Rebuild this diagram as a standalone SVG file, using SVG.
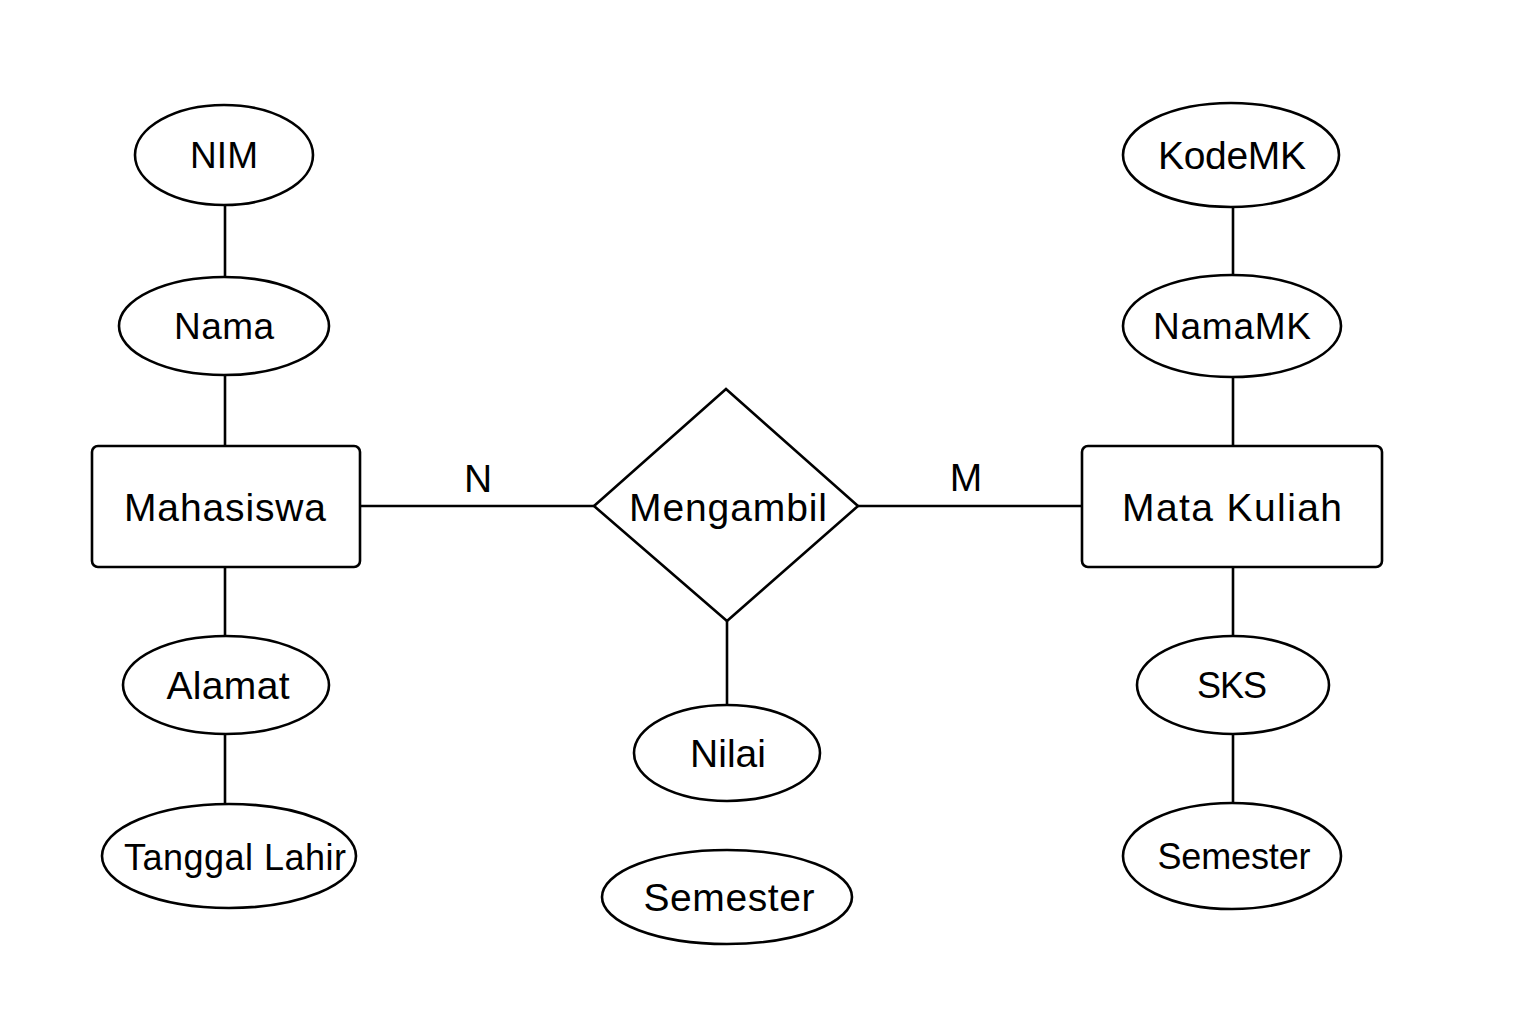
<svg xmlns="http://www.w3.org/2000/svg" width="1536" height="1024" viewBox="0 0 1536 1024">
<style>
.s{fill:#fff;stroke:#000;stroke-width:2.6}
.c line{stroke:#000;stroke-width:2.6}
text{font-family:"Liberation Sans",Arial,sans-serif;font-size:39px;fill:#000;text-anchor:middle}
.t{font-size:37px}
.u{font-size:36px}
</style>
<rect width="1536" height="1024" fill="#fff"/>
<g class="c" id="connectors">
<line x1="225" y1="205" x2="225" y2="277"/>
<line x1="225" y1="375" x2="225" y2="446"/>
<line x1="225" y1="567" x2="225" y2="636"/>
<line x1="225" y1="733" x2="225" y2="804"/>
<line x1="360" y1="506" x2="594" y2="506"/>
<line x1="858" y1="506" x2="1082" y2="506"/>
<line x1="727" y1="621" x2="727" y2="705"/>
<line x1="1233" y1="207" x2="1233" y2="275"/>
<line x1="1233" y1="377" x2="1233" y2="446"/>
<line x1="1233" y1="567" x2="1233" y2="636"/>
<line x1="1233" y1="734" x2="1233" y2="803"/>
<text x="478" y="492" textLength="25">N</text>
<text x="966" y="491" textLength="30">M</text>
</g>
<g id="nim"><ellipse class="s" cx="224" cy="155" rx="89" ry="50"/><text class="t" x="224" y="168" textLength="68">NIM</text></g>
<g id="nama"><ellipse class="s" cx="224" cy="326" rx="105" ry="49"/><text class="t" x="224" y="339" textLength="100">Nama</text></g>
<g id="mahasiswa"><rect class="s" x="92" y="446" width="268" height="121" rx="6"/><text x="225" y="521" textLength="202">Mahasiswa</text></g>
<g id="alamat"><ellipse class="s" cx="226" cy="685" rx="103" ry="49"/><text x="228" y="699" textLength="123">Alamat</text></g>
<g id="tanggal"><ellipse class="s" cx="229" cy="856" rx="127" ry="52"/><text class="u" x="235" y="870" textLength="222">Tanggal Lahir</text></g>
<g id="mengambil"><polygon class="s" points="726,389 858,506 727,621 594,506"/><text x="728" y="521" textLength="198">Mengambil</text></g>
<g id="nilai"><ellipse class="s" cx="727" cy="753" rx="93" ry="48"/><text x="728" y="767" textLength="76">Nilai</text></g>
<g id="semester1"><ellipse class="s" cx="727" cy="897" rx="125" ry="47"/><text x="729" y="911" textLength="171">Semester</text></g>
<g id="kodemk"><ellipse class="s" cx="1231" cy="155" rx="108" ry="52"/><text x="1232" y="169" textLength="148">KodeMK</text></g>
<g id="namamk"><ellipse class="s" cx="1232" cy="326" rx="109" ry="51"/><text class="t" x="1232" y="339" textLength="158">NamaMK</text></g>
<g id="matakuliah"><rect class="s" x="1082" y="446" width="300" height="121" rx="6"/><text x="1232" y="521" textLength="220">Mata Kuliah</text></g>
<g id="sks"><ellipse class="s" cx="1233" cy="685" rx="96" ry="49"/><text class="u" x="1232" y="698" textLength="70">SKS</text></g>
<g id="semester2"><ellipse class="s" cx="1232" cy="856" rx="109" ry="53"/><text class="u" x="1234" y="869" textLength="153">Semester</text></g>
</svg>
